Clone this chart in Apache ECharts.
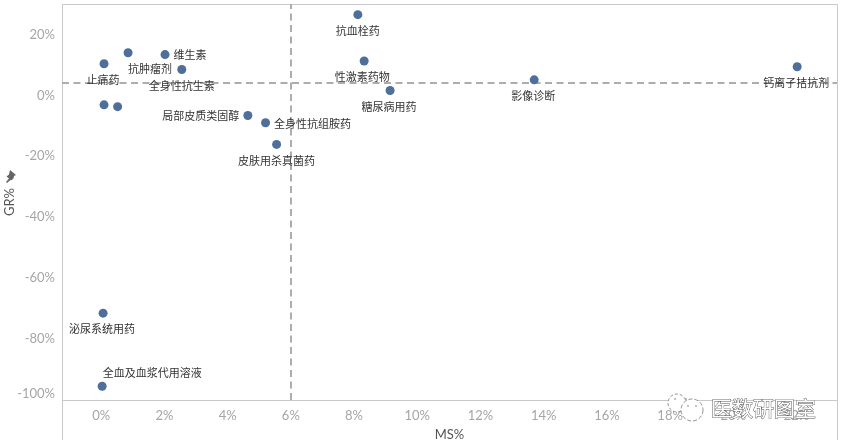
<!DOCTYPE html>
<html><head><meta charset="utf-8">
<style>html,body{margin:0;padding:0;background:#fff}#c{width:842px;height:446px}</style>
<script src="https://cdn.jsdelivr.net/npm/echarts@6/dist/echarts.min.js"></script>
</head><body><div id="c"></div>
<script>
const names = ['抗血栓药','性激素药物','糖尿病用药','影像诊断','钙离子拮抗剂','止痛药','抗肿瘤剂','维生素','全身性抗生素','','','局部皮质类固醇','全身性抗组胺药','皮肤用杀真菌药','泌尿系统用药','全血及血浆代用溶液'];
const ms = [8.12,8.32,9.14,13.7,22.02,0.09,0.85,2.02,2.55,0.09,0.52,4.64,5.2,5.55,0.06,0.03];
const gr = [26.5,11.3,1.6,5.1,9.4,10.4,14.0,13.4,8.5,-3.1,-3.7,-6.6,-9.0,-16.1,-71.5,-95.5];
const labelSides = ['bottom','bottom','bottom','bottom','bottom','bottom','bottom','right','bottom','bottom','bottom','left','right','bottom','bottom','top'];
const labelShift = [[0,2],[-2,2],[-1,2],[-1,2],[-1,2],[-1,2],[22,2],[0,0],[0,2],[0,0],[0,0],[0,0],[0,1],[0,2],[-1,2],[50,1]];
const xTicks = [0,2,4,6,8,10,12,14,16,18,20,22];
const yTicks = [-100,-80,-60,-40,-20,0,20];
const xRef = 6, yRef = 4.25;
const frame = '#c9c9cb';
const line = (x1,y1,x2,y2) => ({type:'line',silent:true,z:0,shape:{x1,y1,x2,y2},style:{stroke:frame,lineWidth:1}});
const wm = {stroke:'#777',fill:'#fff',lineWidth:0.8};
const chart = echarts.init(document.getElementById('c'),null,{renderer:'canvas'});
chart.setOption({
  animation:false,
  backgroundColor:'#fff',
  textStyle:{fontFamily:'"Noto Sans CJK SC","Noto Sans",sans-serif'},
  grid:{left:62,right:5,top:4,bottom:46,outerBoundsMode:'none'},
  xAxis:{type:'value',min:-1.24,max:23.28,name:'MS%',nameLocation:'middle',nameGap:28,
    nameTextStyle:{color:'#555',fontSize:13,fontFamily:'Lato'},
    splitLine:{show:false},axisTick:{show:false},axisLine:{show:false},
    axisLabel:{customValues:xTicks,formatter:v=>v+'%',color:'#a6a6a6',fontSize:13,margin:9,fontFamily:'Lato'}},
  yAxis:{type:'value',min:-100,max:30,name:'GR%',nameLocation:'middle',nameGap:46,nameMoveOverlap:false,
    nameTextStyle:{color:'#555',fontSize:13,fontFamily:'Lato'},
    splitLine:{show:false},axisTick:{show:false},axisLine:{show:false},
    axisLabel:{customValues:yTicks,formatter:v=>v+'%',color:'#a6a6a6',fontSize:13,margin:7,fontFamily:'Lato',verticalAlignMinLabel:'bottom',padding:[2,0,0,0]}},
  series:[{
    type:'scatter',symbolSize:9,
    itemStyle:{color:'#4e6f99',opacity:1},
    data:ms.map((x,i)=>({value:[x,gr[i]],name:names[i],
      label:{show:!!names[i],position:labelSides[i],offset:labelShift[i],distance:4,formatter:names[i],color:'#333',fontSize:11}})),
    markLine:{silent:true,symbol:'none',label:{show:false},animation:false,z:1,
      lineStyle:{color:'#adadad',type:[7,4.5],width:2},
      data:[{xAxis:xRef},{yAxis:yRef}]}
  }],
  graphic:[
    line(62.5,4.5,837.5,4.5),line(62.5,4.5,62.5,440),line(837.5,4.5,837.5,440),line(62.5,400.5,837.5,400.5),
    {type:'polygon',silent:true,z:5,shape:{points:[[10,170],[16,175],[14,176],[13.5,178.5],[11,180.5],[10.5,180],[7,183],[6,182],[9,178.5],[6.5,176.5],[9,174.5],[9.5,172]]},style:{fill:'#666'}},
    {type:'circle',silent:true,z:20,shape:{cx:677,cy:403,r:9},style:{...wm,lineDash:[3,2]}},
    {type:'circle',silent:true,z:21,shape:{cx:692,cy:410,r:11},style:{...wm,lineDash:[4,2]}},
    {type:'circle',silent:true,z:22,shape:{cx:688,cy:406,r:0.8},style:{fill:'#777'}},
    {type:'circle',silent:true,z:22,shape:{cx:696,cy:406,r:0.8},style:{fill:'#777'}},
    {type:'circle',silent:true,z:22,shape:{cx:675,cy:399,r:0.8},style:{fill:'#777'}},
    {type:'circle',silent:true,z:22,shape:{cx:686,cy:399,r:0.8},style:{fill:'#777'}},
    {type:'text',silent:true,z:23,x:711,y:398,style:{text:'医数研图室',fill:'#fff',stroke:'#555',lineWidth:0.9,fontSize:21,fontFamily:'"Noto Sans CJK SC"'}}
  ]
});
</script></body></html>
